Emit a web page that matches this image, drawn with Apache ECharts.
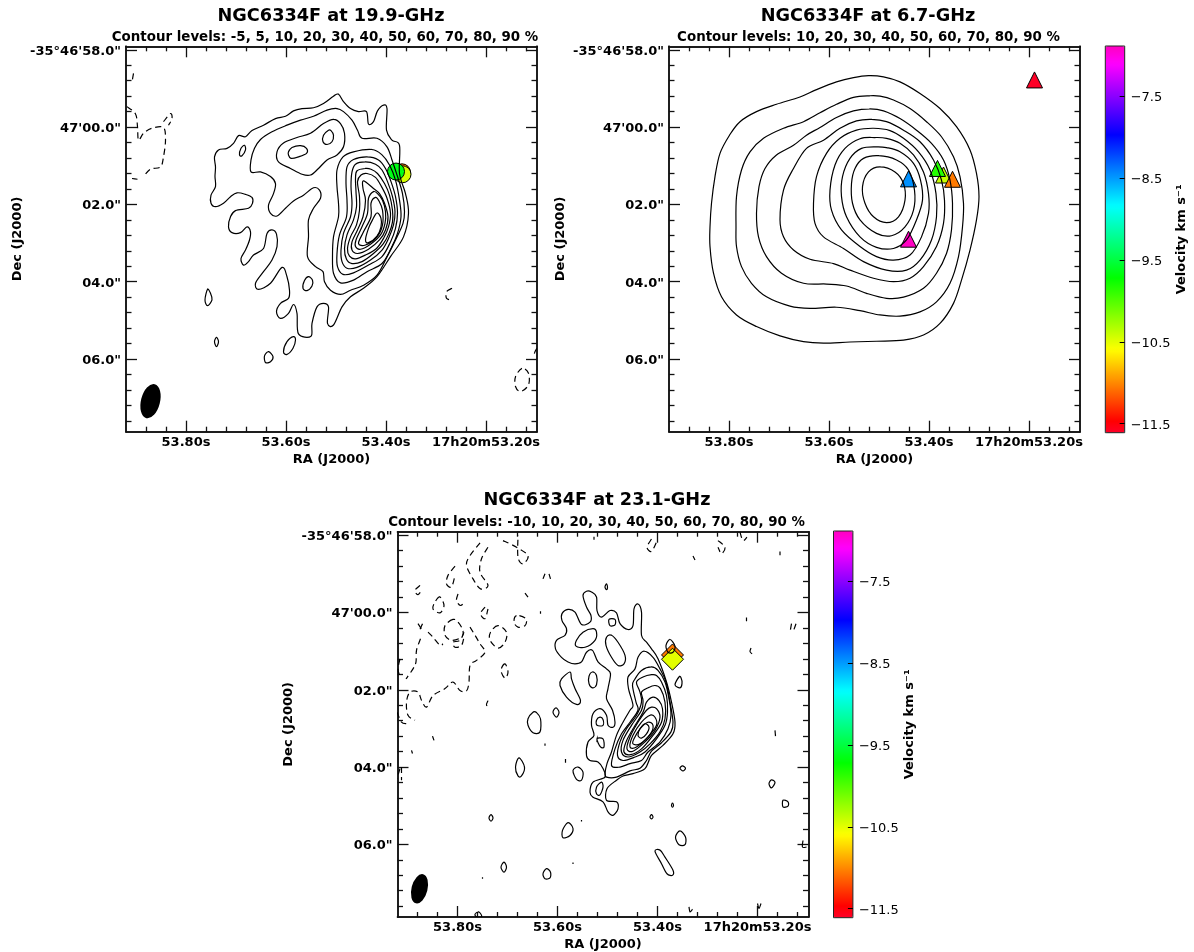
<!DOCTYPE html>
<html><head><meta charset="utf-8">
<style>html,body{margin:0;padding:0;background:#fff}#c{width:1194px;height:952px}</style>
<script src="https://cdn.jsdelivr.net/npm/echarts@6/dist/echarts.min.js"></script>
</head><body><div id="c"></div>
<script>
// Units: RA = milliseconds of time past 17h20m53s; Dec = 1/100 arcsec past -35d47'00".
const raTicks = [800, 600, 400, 200];
const raTickLabels = ['53.80s', '53.60s', '53.40s', '17h20m53.20s'];
const raMinorTicks = [880,840,760,720,680,640,560,520,480,440,360,320,280,240,160,120];
const decTicks = [-200, 0, 200, 400, 600];
const decTickLabels = ['-35\u00b046\'58.0"', '47\'00.0"', '02.0"', '04.0"', '06.0"'];
const decMinorTicks = [-160,-120,-80,-40,40,80,120,160,240,280,320,360,440,480,520,560,640,680,720,760];
const velTicks = [-7.5, -8.5, -9.5, -10.5, -11.5];
const velRange = [-11.61, -6.89];
// gist_rainbow colour map stops [position, r, g, b]
const cmapStops = [[0,255,0,41],[0.03,255,0,0],[0.215,255,255,0],[0.4,0,255,0],[0.586,0,255,255],[0.77,0,0,255],[0.954,255,0,255],[1,255,0,191]];

// 19.9 GHz contours (flat ra,dec lists)
const c199Solid = [
[495,-85,505,-80,525,-61,545,-50,568,-48,585,-42,601,-28,621,-22,645,-5,668,9,681,25,695,22,705,42,718,55,735,59,743,77,741,103,742,128,741,154,750,176,750,197,741,206,725,197,711,180,698,170,681,174,668,182,667,197,675,210,701,216,711,232,715,258,708,273,691,273,678,258,671,271,673,292,681,318,690,340,685,357,675,348,665,331,645,314,638,275,628,266,619,277,618,309,628,344,645,374,661,404,655,420,631,404,608,363,598,387,593,422,595,443,611,456,619,478,611,495,595,482,585,459,578,482,575,535,550,541,548,508,538,465,525,456,515,465,517,508,505,512,488,465,471,439,445,417,418,387,391,335,365,284,355,223,361,172,373,120,373,47,388,34,399,8,398,-48,405,-57,417,-42,425,-14,435,-8,439,-40,455,-40,471,-48,485,-66,495,-85],
[498,-48,518,-44,545,-28,571,-18,598,-5,628,12,651,32,663,55,670,85,670,116,651,116,631,128,621,146,625,172,635,202,631,223,618,230,601,210,585,191,565,176,545,157,533,163,531,184,545,210,555,240,555,284,557,335,541,361,526,374,523,400,511,422,491,433,471,422,445,409,418,383,398,336,378,284,366,249,363,219,367,172,378,124,388,85,398,51,418,29,448,29,457,8,468,-18,485,-40,498,-48],
[505,-20,525,-9,551,16,578,27,605,41,618,64,615,90,591,107,568,122,551,124,535,107,518,85,498,72,485,51,483,16,491,-9,505,-20],
[515,8,525,21,526,38,518,45,508,38,505,21,510,9,515,8],
[595,64,588,53,571,48,559,55,559,68,575,77,590,81,595,72,595,64],
[683,47,690,55,693,72,688,74,681,59,683,47],
[757,420,762,447,757,462,748,447,751,430,757,420],
[739,544,743,555,739,568,735,555,739,544],
[585,542,598,555,605,581,598,588,586,572,581,551,585,542],
[635,581,643,592,641,609,631,607,626,594,635,581],
[555,387,563,397,566,417,558,423,548,411,547,396,555,387],
[428,58,465,64,486,77,498,111,498,154,495,197,495,232,505,284,507,335,505,378,491,403,465,396,438,374,408,353,390,314,377,275,370,232,373,189,381,137,393,98,408,72,428,58],
[438,77,465,84,478,103,480,146,478,189,479,232,493,279,498,327,497,361,486,381,465,377,435,357,408,335,391,297,381,262,377,223,381,180,390,141,401,107,415,85,438,77],
[441,90,461,96,468,116,470,154,468,197,471,232,485,275,490,318,488,348,478,365,458,363,431,344,408,318,395,288,385,253,382,219,387,180,397,141,408,111,421,96,441,90],
[441,107,458,113,461,133,460,167,459,206,465,240,478,279,483,314,479,342,468,353,448,348,425,327,406,303,394,275,387,245,387,215,393,176,403,146,417,120,430,109,441,107],
[438,120,450,124,457,141,453,180,453,215,459,253,471,284,477,314,473,334,461,341,441,331,419,314,405,288,395,258,391,223,398,184,409,154,421,130,438,120],
[445,139,446,159,441,189,446,232,457,266,468,297,468,318,457,327,435,316,413,292,401,266,396,232,403,197,413,172,425,159,445,139],
[425,167,435,184,437,223,448,258,460,292,461,309,451,316,431,303,411,279,402,249,401,219,407,189,417,172,425,167],
[421,182,430,197,430,232,445,271,455,301,441,305,418,284,407,253,407,215,414,191,421,182],
[418,222,427,240,435,262,441,292,435,299,418,282,410,258,410,236,418,222]
];
const c199Dashed = [
[905,-139,908,-117],
[918,-53,901,-34,897,-1,895,34,885,16,868,3,845,1,841,34,845,77,851,103,871,109,885,128],
[908,133,897,135],
[845,-14,831,-35,828,-22,835,-5],
[268,417,279,426,279,443,271,447],
[128,624,141,646,141,671,131,684,115,667,115,637,128,624],
[98,572,103,585,98,594]
];
const mark199 = [[368,117,-11.05],[367,122,-10.45],[380,115,-9.65]];
const beam199 = [[871,709]];

// 6.7 GHz contours
const c67Solid = [
[521,-133,551,-128,585,-117,625,-97,658,-78,705,-59,745,-40,778,-14,799,21,818,68,828,128,835,197,838,258,838,309,831,378,815,439,785,486,745,516,698,540,651,555,611,559,558,556,505,554,451,551,411,538,378,508,351,456,335,396,318,318,305,240,300,180,305,120,318,59,345,-1,378,-48,418,-87,458,-117,491,-130,521,-133],
[519,-81,551,-77,585,-59,618,-37,651,-14,691,3,731,29,758,64,775,111,785,180,786,258,785,309,775,361,755,404,725,439,678,463,638,469,585,466,538,475,498,486,458,489,418,478,385,452,358,404,341,335,333,258,331,197,338,128,351,77,375,25,405,-14,438,-48,471,-70,498,-80,519,-81],
[518,-47,551,-42,585,-25,618,1,645,21,671,47,705,72,728,107,740,154,745,223,741,284,725,335,695,378,651,404,605,406,565,411,525,430,485,443,451,440,411,417,385,378,365,327,355,266,353,197,358,137,371,85,395,42,425,8,458,-22,491,-42,518,-47],
[515,-20,545,-16,578,3,611,34,645,55,671,107,691,163,698,240,691,284,671,318,638,342,591,353,558,370,511,391,471,400,438,391,411,361,385,309,371,249,369,189,375,137,391,85,418,38,451,8,485,-14,515,-20],
[511,3,545,8,578,29,605,68,625,128,631,197,628,249,611,284,571,314,531,348,485,370,445,370,418,344,395,292,385,232,386,172,398,111,421,64,451,29,478,9,511,3],
[508,27,538,30,568,55,588,98,598,163,595,215,575,266,538,309,505,335,471,344,438,331,415,284,401,223,401,172,411,116,431,72,458,42,485,29,508,27],
[505,51,535,55,558,81,573,128,575,180,565,232,538,284,505,311,471,314,445,292,425,240,413,189,417,137,431,94,458,64,485,53,505,51],
[501,74,531,81,548,107,555,146,553,197,538,240,505,275,475,281,448,258,431,215,429,163,441,111,465,85,501,74],
[498,103,521,116,533,154,528,197,511,232,485,247,461,232,448,189,451,146,468,116,498,103]
];
const mark67 = [[189,-122,-11.6],[441,290,-6.9],[441,134,-8.47],[371,124,-10.4],[383,107,-9.85],[353,135,-11.05]];

// 23.1 GHz contours
const c231Solid = [
[542,-55,549,-44,542,-14,533,8,535,25,552,31,565,-1,579,-8,591,3,591,21,582,42,585,59,602,72,604,94,592,116,579,128,565,133,552,128,542,103,530,98,519,128,502,146,494,159,499,197,502,223,490,253,485,284,489,297,499,292,502,266,515,249,529,262,532,292,527,318,539,335,542,370,535,383,519,387,509,404,505,426,529,439,535,465,529,478,509,490,499,516,489,525,479,508,482,490,502,486,501,456,482,434,469,423,449,417,425,404,412,370,389,344,369,314,365,284,372,232,382,180,399,120,412,94,422,77,432,59,432,-1,439,-22,447,-9,449,34,459,44,475,29,482,1,495,-5,512,12,521,-5,522,-40,532,-53,542,-55],
[427,100,439,116,445,146,459,167,458,197,449,240,455,253,469,284,482,318,492,361,501,391,505,417,502,426,482,426,455,410,435,403,422,383,412,359,392,337,373,309,369,284,375,232,383,180,395,146,409,116,427,100],
[412,141,432,150,445,172,450,189,443,232,439,253,455,284,472,314,485,353,492,396,475,400,455,391,432,383,419,361,395,335,379,301,373,266,377,223,385,180,399,150,412,141],
[412,161,429,167,442,180,435,206,432,232,442,266,462,301,475,335,480,370,469,383,445,374,425,361,402,327,385,292,380,258,382,215,392,180,402,163,412,161],
[419,195,432,206,429,228,432,253,452,292,469,331,472,361,459,374,435,361,415,340,395,309,385,275,385,232,394,197,405,189,419,195],
[409,219,422,232,429,258,449,301,463,335,467,361,454,368,432,353,409,318,392,284,390,249,397,228,409,219],
[412,245,422,253,439,284,455,322,461,353,449,359,425,335,405,305,395,271,402,249,412,245],
[415,266,432,284,449,318,455,348,442,348,419,322,402,292,405,271,415,266],
[419,284,435,301,447,327,449,340,435,340,414,314,409,292,419,284],
[425,288,435,301,439,318,432,325,422,314,417,297,425,288],
[529,42,549,51,562,72,563,87,545,90,525,72,522,51,529,42],
[492,59,502,64,503,85,492,116,479,137,467,133,465,111,479,77,492,59],
[497,18,485,18,485,32,495,34,497,18],
[530,154,537,165,537,184,530,195,522,187,522,163,530,154],
[575,154,592,172,595,189,582,219,562,238,554,228,565,197,572,172,575,154],
[515,271,522,279,521,292,509,292,509,277,515,271],
[521,327,509,327,507,348,514,348,521,327],
[512,439,522,452,522,469,515,472,509,452,512,439],
[649,258,659,275,659,292,649,311,635,309,634,275,642,259,649,258],
[603,247,609,258,602,271,597,258,603,247],
[677,376,684,400,679,423,672,423,666,400,677,376],
[559,400,569,409,562,432,552,434,549,413,559,400],
[733,523,737,532,733,540,729,532,733,523],
[579,544,590,564,589,583,575,577,569,559,579,544],
[707,646,713,659,707,672,702,659,707,646],
[622,663,629,676,625,689,615,687,614,672,622,663],
[355,565,364,581,357,601,345,601,344,581,355,565],
[405,618,395,615,385,633,369,667,370,680,381,676,392,650,405,618],
[357,167,365,187,355,195,351,184,353,169,357,167],
[350,397,355,403,349,410,344,403,350,397],
[172,433,177,443,172,454,165,440,172,433],
[149,486,139,490,139,501,149,503,149,486],
[370,493,372,499,370,504,368,499,370,493],
[412,523,415,529,412,534,409,529,412,523],
[502,-74,505,-66,502,-59,500,-66,502,-74],
[375,70,383,85,379,103,369,103,365,87,375,70],
[759,775,765,781,761,788,752,788,754,779,759,775],
[634,-3,634,3],[625,339,625,345],[584,379,584,389],[552,537,552,541],[569,647,569,651],[750,685,750,689],[222,13,222,23],[155,-158,155,-148],[527,-196,527,-188],
[165,305,164,320],[213,92,215,101,211,107],[193,753,197,766,200,753],[337,762,335,775,330,768],[109,590,110,607,102,607]
];
const c231Dashed = [
[874,68,882,98,883,128,889,146,903,172],
[859,51,849,64,835,85,829,81],
[879,29,870,47],[870,29,875,44],
[809,18,825,34,825,59,812,72,792,64,789,47,799,25,809,18],
[787,51,795,72,809,77,805,90,792,85,787,64],
[719,34,734,51,735,72,719,92,705,77,702,51,719,34],
[682,8,687,25,679,38,665,34,663,16,682,8],
[835,-40,845,-27,849,-9,835,1,827,-18,835,-40],
[799,-48,802,-31,794,-18,785,-28],
[875,-70,885,-57,879,-46,870,-61],
[805,-120,819,-96,822,-74,812,-66,805,-96],
[745,-14,754,3,745,16,739,-9],
[755,-180,775,-147,782,-122,769,-87,754,-61,739,-70,755,-104,752,-139,739,-169],
[709,-186,682,-169,659,-147,669,-126,679,-143,679,-199],
[625,-100,629,-87],[617,-100,614,-87],[665,-50,659,-40],
[705,133,713,150,705,170,699,154,705,133],
[775,38,765,59,755,81,745,103,762,124,775,137,777,180,782,203,795,202,809,180,825,197,849,215,862,245,872,227,879,206,895,206,902,232,899,266,885,279],
[921,258,912,284,902,288],
[915,120,919,146,915,167],
[850,320,847,331],[892,357,890,365],
[739,228,742,240,733,242],
[412,-190,421,-169,412,-158,402,-182],
[279,-186,265,-169,272,-152,279,-169],
[235,-208,229,-186,221,-195],
[329,-146,325,-136],[132,29,135,51],[123,29,129,51],
[915,404,921,430],[912,400,912,434]
];
const mark231 = [[370,110,-11.05],[370,121,-10.5]];
const beam231 = [[876,715]];

const FONT = '"DejaVu Sans"';
const raRange = [98, 920], decRange = [-209, 788];
const panels = [
  {left:126, top:46.3, title:'NGC6334F at 19.9-GHz', levels:'Contour levels: -5, 5, 10, 20, 30, 40, 50, 60, 70, 80, 90 %', titleX:331, levelX:325, titleY:16, levelY:38, solid:c199Solid, dashed:c199Dashed, marks:mark199, symbol:'circle', size:17, beam:beam199, beamSize:[19,35]},
  {left:669, top:46.3, title:'NGC6334F at 6.7-GHz', levels:'Contour levels: 10, 20, 30, 40, 50, 60, 70, 80, 90 %', titleX:868, levelX:868.5, titleY:16, levelY:38, solid:c67Solid, dashed:[], marks:mark67, symbol:'triangle', size:16},
  {left:397.5, top:531.7, title:'NGC6334F at 23.1-GHz', levels:'Contour levels: -10, 10, 20, 30, 40, 50, 60, 70, 80, 90 %', titleX:597, levelX:596.5, titleY:500, levelY:523, solid:c231Solid, dashed:c231Dashed, marks:mark231, symbol:'diamond', size:22, beam:beam231, beamSize:[16,30]}
];
const bars = [{left:1105.3, top:46, height:386.7},{left:833.5, top:531, height:386.7}];

const grid=[], xAxis=[], yAxis=[], series=[], texts=[];
const frameLine = {show:true, onZero:false, lineStyle:{color:'#111', width:1.5}};
const boldLabel = {fontFamily:FONT, fontWeight:'bold', fontSize:13, color:'#000'};
function pairs(f){const o=[];for(let i=0;i<f.length;i+=2)o.push([f[i],f[i+1]]);return o;}
// Draws a contour as a smooth curve through its points, placed by the axes' scales.
function contourPath(pts){
  const n=pts.length;
  const closed=n>3&&pts[0][0]===pts[n-1][0]&&pts[0][1]===pts[n-1][1];
  const m=closed?n-1:n;
  const at=i=>closed?pts[(i+m)%m]:pts[Math.max(0,Math.min(m-1,i))];
  let d='M'+at(0)[0]+' '+at(0)[1];
  const segs=closed?m:m-1;
  for(let i=0;i<segs;i++){
    const p0=at(i-1),p1=at(i),p2=at(i+1),p3=at(i+2);
    d+='C'+(p1[0]+(p2[0]-p0[0])/6).toFixed(2)+' '+(p1[1]+(p2[1]-p0[1])/6).toFixed(2)+' '+(p2[0]-(p3[0]-p1[0])/6).toFixed(2)+' '+(p2[1]-(p3[1]-p1[1])/6).toFixed(2)+' '+p2[0].toFixed(2)+' '+p2[1].toFixed(2);
  }
  return d+(closed?'Z':'');
}
const scatterIdx=[[],[]];

panels.forEach((p,pi)=>{
  const g=grid.length;
  grid.push({left:p.left, top:p.top, width:411, height:385.4, show:false});
  const x0=xAxis.length, y0=yAxis.length;
  const xBase={type:'value', gridIndex:g, min:raRange[0], max:raRange[1], inverse:true, splitLine:{show:false}, axisLine:frameLine};
  const yBase={type:'value', gridIndex:g, min:decRange[0], max:decRange[1], inverse:true, splitLine:{show:false}, axisLine:frameLine};
  const tick=(vals,len)=>({show:true, inside:true, length:len, customValues:vals, lineStyle:{color:'#111', width:1.3}});
  xAxis.push(Object.assign({},xBase,{position:'bottom', name:'RA (J2000)', nameLocation:'middle', nameGap:21, nameTextStyle:boldLabel,
    axisTick:tick(raTicks,11),
    axisLabel:Object.assign({show:true, margin:4, customValues:raTicks, formatter:v=>raTickLabels[raTicks.indexOf(v)]},boldLabel)}));
  xAxis.push(Object.assign({},xBase,{position:'top', axisTick:tick(raTicks,11), axisLabel:{show:false}}));
  xAxis.push(Object.assign({},xBase,{position:'bottom', axisTick:tick(raMinorTicks,5), axisLabel:{show:false}}));
  xAxis.push(Object.assign({},xBase,{position:'top', axisTick:tick(raMinorTicks,5), axisLabel:{show:false}}));
  yAxis.push(Object.assign({},yBase,{position:'left', name:'Dec (J2000)', nameLocation:'middle', nameGap:102, nameRotate:90, nameTextStyle:boldLabel,
    axisTick:tick(decTicks,11),
    axisLabel:{show:true, margin:5, customValues:decTicks, formatter:v=>'{a|'+decTickLabels[decTicks.indexOf(v)]+'}', rich:{a:Object.assign({padding:[3,0,0,0]},boldLabel)}}}));
  yAxis.push(Object.assign({},yBase,{position:'right', axisTick:tick(decTicks,11), axisLabel:{show:false}}));
  yAxis.push(Object.assign({},yBase,{position:'left', axisTick:tick(decMinorTicks,5.5), axisLabel:{show:false}}));
  yAxis.push(Object.assign({},yBase,{position:'right', axisTick:tick(decMinorTicks,5.5), axisLabel:{show:false}}));

  const barIdx = pi===2?1:0;
  scatterIdx[barIdx].push(series.length);
  series.push({type:'scatter', name:p.title+' masers', xAxisIndex:x0, yAxisIndex:y0, symbol:p.symbol, symbolSize:p.size, data:p.marks, z:2, silent:true,
    itemStyle:{borderColor:'#000', borderWidth:1, opacity:1}});
  if(p.beam) series.push({type:'scatter', name:p.title+' beam', xAxisIndex:x0, yAxisIndex:y0, symbol:'path://M0,-50A50,50 0 1,1 0,50A50,50 0 1,1 0,-50Z', symbolSize:p.beamSize, symbolRotate:-14, data:p.beam, z:2, silent:true, itemStyle:{color:'#000', opacity:1}});
  const line=(f,dash)=>{
    const pts=pairs(f);
    series.push({type:'custom', xAxisIndex:x0, yAxisIndex:y0, data:pts, encode:{x:0,y:1}, z:3, silent:true, clip:true, animation:false,
      renderItem:(params,api)=>{
        if(params.dataIndex!==0) return null;
        return {type:'path', shape:{pathData:contourPath(pts.map(q=>api.coord(q)))},
          style:{fill:'none', stroke:'#000', lineWidth:1.2, lineDash:dash?[6,4]:null}};
      }});
  };
  p.solid.forEach(f=>line(f,false));
  p.dashed.forEach(f=>line(f,true));

  texts.push({type:'text', x:p.titleX, y:p.titleY, style:{text:p.title, font:'bold 17.7px '+FONT, fill:'#000', textAlign:'center', textVerticalAlign:'middle'}});
  texts.push({type:'text', x:p.levelX, y:p.levelY, style:{text:p.levels, font:'bold 13.4px '+FONT, fill:'#000', textAlign:'center', textVerticalAlign:'middle'}});
});

// colour map as an evenly spaced list
const cmapColors=[];
for(let i=0;i<=100;i++){const t=i/100;let k=0;while(k<cmapStops.length-2&&t>cmapStops[k+1][0])k++;
  const a=cmapStops[k],b=cmapStops[k+1],u=(t-a[0])/(b[0]-a[0]);
  cmapColors.push('rgb('+[1,2,3].map(j=>Math.round(a[j]+(b[j]-a[j])*u)).join(',')+')');}

const visualMap=[];
bars.forEach((b,i)=>{
  const g=grid.length;
  grid.push({left:b.left, top:b.top, width:19.4, height:b.height, show:true, z:10, borderColor:'#222', borderWidth:1, backgroundColor:'transparent'});
  xAxis.push({type:'value', gridIndex:g, show:false, min:0, max:1});
  yAxis.push({type:'value', gridIndex:g, position:'right', min:velRange[0], max:velRange[1], z:10, splitLine:{show:false},
    axisLine:{show:false, onZero:false},
    axisTick:{show:true, inside:true, length:5, customValues:velTicks, lineStyle:{color:'#000', width:1}},
    axisLabel:{show:true, margin:6, customValues:velTicks, formatter:v=>'{a|\u2212'+Math.abs(v).toFixed(1)+'}', rich:{a:{padding:[3,0,0,0], fontFamily:FONT, fontSize:13, color:'#000'}}},
    name:'Velocity km s\u207b\u00b9', nameLocation:'middle', nameGap:50, nameRotate:90, nameTextStyle:boldLabel});
  visualMap.push({type:'continuous', show:true, min:velRange[0], max:velRange[1], dimension:2, seriesIndex:scatterIdx[i], inRange:{color:cmapColors},
    left:b.left, top:b.top, itemWidth:19.4, itemHeight:b.height, padding:0, calculable:false, hoverLink:false, text:null, z:4});
});

const chart=echarts.init(document.getElementById('c'),null,{renderer:'canvas'});
chart.setOption({animation:false, backgroundColor:'#fff', textStyle:{fontFamily:FONT}, grid, xAxis, yAxis, series, visualMap, graphic:{elements:texts}});
</script></body></html>
